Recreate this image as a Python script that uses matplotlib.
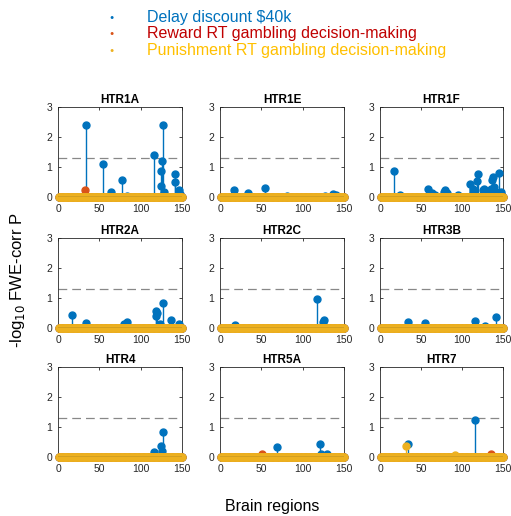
#Stem plots of -log10 FWE-corrected P per brain region for 9 serotonin receptor genes
import numpy as np
import matplotlib
matplotlib.use('Agg')
import matplotlib.pyplot as plt

plt.rcParams['font.family'] = ['Liberation Sans', 'DejaVu Sans']

#Data: region index -> value (all other regions are 0)
n_regions = 150
genes = ['HTR1A', 'HTR1E', 'HTR1F', 'HTR2A', 'HTR2C', 'HTR3B', 'HTR4', 'HTR5A', 'HTR7']

delay_idx = {
    'HTR1A': [34, 55, 64, 78, 83, 116, 124, 125, 126, 127, 128, 141, 142, 146, 148],
    'HTR1E': [17, 34, 55, 81, 127, 137, 140],
    'HTR1F': [17, 24, 58, 64, 67, 78, 79, 82, 95, 110, 113, 114, 118, 119, 125, 127, 131, 135, 137, 138, 139, 141, 145, 147, 148],
    'HTR2A': [17, 34, 80, 83, 118, 119, 120, 123, 127, 137, 146],
    'HTR2C': [18, 117, 124, 126],
    'HTR3B': [34, 55, 116, 128, 142],
    'HTR4': [116, 124, 126, 127],
    'HTR5A': [69, 121, 122, 130],
    'HTR7': [34, 116],
}
delay_val = {
    'HTR1A': [2.39, 1.10, 0.16, 0.56, 0.02, 1.41, 0.88, 0.36, 1.19, 2.39, 0.17, 0.77, 0.51, 0.24, 0.10],
    'HTR1E': [0.23, 0.13, 0.30, 0.04, 0.03, 0.09, 0.06],
    'HTR1F': [0.87, 0.06, 0.27, 0.12, 0.06, 0.18, 0.23, 0.12, 0.06, 0.43, 0.28, 0.18, 0.52, 0.77, 0.25, 0.28, 0.16, 0.28, 0.58, 0.67, 0.35, 0.18, 0.80, 0.18, 0.10],
    'HTR2A': [0.42, 0.17, 0.15, 0.21, 0.56, 0.39, 0.51, 0.15, 0.82, 0.26, 0.12],
    'HTR2C': [0.11, 0.98, 0.19, 0.26],
    'HTR3B': [0.20, 0.17, 0.22, 0.08, 0.37],
    'HTR4': [0.17, 0.36, 0.20, 0.82],
    'HTR5A': [0.34, 0.43, 0.11, 0.09],
    'HTR7': [0.45, 1.25],
}
reward_idx = {'HTR1A': [33], 'HTR5A': [51], 'HTR7': [135]}
reward_val = {'HTR1A': [0.24], 'HTR5A': [0.11], 'HTR7': [0.09]}
punish_idx = {'HTR7': [32, 92]}
punish_val = {'HTR7': [0.36, 0.06]}

threshold = -np.log10(0.05)

c_blue = '#0072BD'
c_red = '#D95319'
c_yellow = '#EDB120'

def full_series(idx, val, g):
    y = np.zeros(n_regions)
    for i, v in zip(idx.get(g, []), val.get(g, [])):
        y[i - 1] = v
    return y

x = np.arange(1, n_regions + 1)

fig = plt.figure(figsize=(5.11, 5.16), dpi=100)

lefts = [58, 220, 380]
widths = [124, 124, 123]
tops = [107, 238, 367]
W, H = 511.0, 516.0
ah = 90

for k, g in enumerate(genes):
    r, c = divmod(k, 3)
    ax = fig.add_axes([lefts[c] / W, 1 - (tops[r] + ah) / H, widths[c] / W, ah / H])
    for y, col in [(full_series(delay_idx, delay_val, g), c_blue),
                   (full_series(reward_idx, reward_val, g), c_red),
                   (full_series(punish_idx, punish_val, g), c_yellow)]:
        ax.vlines(x, 0, y, color=col, lw=1.0, zorder=2)
        ax.plot(x, y, 'o', color=col, ms=5, mec=col, clip_on=False, zorder=3)
    ax.axhline(0, color='#222222', lw=0.9, zorder=4)
    ax.axhline(threshold, color='#888888', lw=0.9, ls=(0, (7, 4)), zorder=1)
    ax.set_xlim(0, 150)
    ax.set_ylim(0, 3)
    ax.set_xticks([0, 50, 100, 150])
    ax.set_yticks([0, 1, 2, 3])
    ax.tick_params(direction='in', length=2.5, width=0.6, labelsize=7.5, colors='#262626',
                   top=True, right=True)
    ax.tick_params(axis='x', pad=5)
    ax.tick_params(axis='y', pad=4)
    for s in ax.spines.values():
        s.set_color('#262626')
        s.set_linewidth(0.6)
    ax.set_title(g, fontsize=8.5, fontweight='bold', pad=3)

#legend as plain text
leg = [('Delay discount $40k', c_blue, '#0072BD'),
       ('Reward RT gambling decision-making', c_red, '#C00000'),
       ('Punishment RT gambling decision-making', c_yellow, '#FFC000')]
for i, (lab, dc, tc) in enumerate(leg):
    yy = 1 - (17 + 16.5 * i) / H
    fig.text(112 / W, yy, '\u25cf', color=dc, fontsize=5, ha='center', va='center')
    fig.text(147 / W, yy, lab, color=tc, fontsize=11.5, ha='left', va='center')

fig.text(18 / W, 1 - 280 / H, '-log$_{10}$ FWE-corr P', rotation=90, fontsize=12,
         ha='center', va='center')
fig.text(272 / W, 1 - 507 / H, 'Brain regions', fontsize=11.5, ha='center', va='center')

fig.savefig('out.png', dpi=100)
